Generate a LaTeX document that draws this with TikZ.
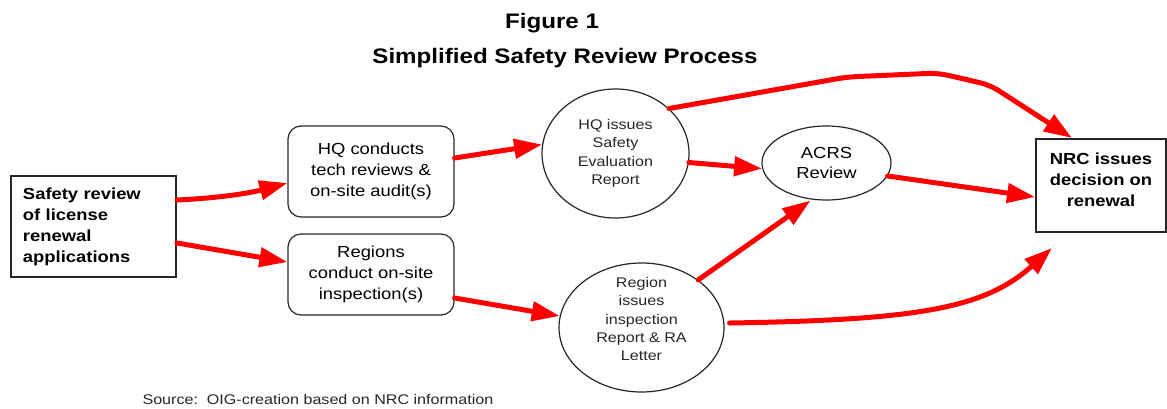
\documentclass[tikz,border=0pt]{standalone}
\usepackage{fontspec}
\setmainfont[FakeStretch=1.15]{Liberation Sans}
\usetikzlibrary{arrows.meta,shapes.geometric,calc}
\begin{document}
\begin{tikzpicture}[x=1pt,y=-1pt,
  redarrow/.style={draw=red, line width=5pt, line cap=round,
    -{Triangle[length=28pt,width=19pt]}},
  thickbox/.style={draw=black!85, line width=2pt, inner sep=0pt},
  roundbox/.style={draw=black!85, line width=1.2pt, rounded corners=13pt,
    minimum width=166pt, align=center, inner sep=0pt,
    font=\fontsize{16}{21}\selectfont},
  ell/.style={ellipse, draw=black!85, line width=1.2pt, inner sep=0pt},
  ctext/.style={align=center, font=\fontsize{14}{18.4}\selectfont, text=black!85}
]
\useasboundingbox (0,0) rectangle (1167,408);

% title
\node[anchor=base, font=\fontsize{21}{24}\selectfont\bfseries] (t1) at (552,28) {Figure 1};
\node[anchor=base, font=\fontsize{21}{24}\selectfont\bfseries] (t2) at (565,63) {Simplified Safety Review Process};

% nodes
\node[thickbox, minimum height=101pt, text width=141pt, inner xsep=12pt, align=left,
  font=\fontsize{16}{21}\selectfont\bfseries] (src) at (93.5,226.5)
  {Safety review\\of license\\renewal\\applications};
\node[roundbox, minimum height=91pt] (hq) at (371,171.5)
  {HQ conducts\\tech reviews \&\\on-site audit(s)};
\node[roundbox, minimum height=81pt] (reg) at (371,274.5)
  {Regions\\conduct on-site\\inspection(s)};
\node[ell, minimum width=147pt, minimum height=129pt, ctext] (hqi) at (615.5,153.5)
  {HQ issues\\Safety\\Evaluation\\Report};
\node[ell, minimum width=165pt, minimum height=129pt] (rgi) at (641.5,327.5) {};
\node[ctext] (rgit) at (641.5,319) {Region\\issues\\inspection\\Report \& RA\\Letter};
\node[ell, minimum width=129pt, minimum height=74pt, align=center,
  font=\fontsize{16}{20}\selectfont] (acrs) at (826.5,163) {ACRS\\Review};
\node[thickbox, minimum width=130pt, minimum height=93pt] (nrc) at (1101,185.5) {};
\node[align=center, font=\fontsize{16}{21}\selectfont\bfseries] (nrct) at (1101,180)
  {NRC issues\\decision on\\renewal};

% source
\node[anchor=base west, font=\fontsize{14}{17}\selectfont, text=black!85] (srcnote) at (139,404)
  {Source:\ \ OIG-creation based on NRC information};

% bend points
\coordinate (b1) at (847,77);
\coordinate (b2) at (938,73);
\coordinate (b3) at (990,85);

% connectors
\draw[redarrow] ([yshift=26.5pt]src.east) .. controls (220,198) and (250,193) .. ([yshift=-11.5pt]hq.west);
\draw[redarrow] ([yshift=-16.5pt]src.east) -- ([yshift=12.5pt]reg.west);
\draw[redarrow] ([yshift=13.5pt]hq.east) -- (hqi.173);
\draw[redarrow] ([yshift=-23.5pt]reg.east) -- (rgi.172);
\draw[redarrow] (hqi.-7) -- (acrs.185);
\draw[redarrow, rounded corners=10pt] (hqi.40) -- (b1) -- (b2) -- (b3) -- ([xshift=-29pt]nrc.north);
\draw[redarrow] (acrs.-12) -- ([yshift=-11.5pt]nrc.west);
\draw[redarrow] (rgi.40) -- ([xshift=-16pt]acrs.south);
\draw[redarrow] ([xshift=5pt,yshift=4.5pt]rgi.east) .. controls (920,320) and (985,308) .. ([xshift=-49pt,yshift=-15pt]nrc.south);
\end{tikzpicture}
\end{document}
